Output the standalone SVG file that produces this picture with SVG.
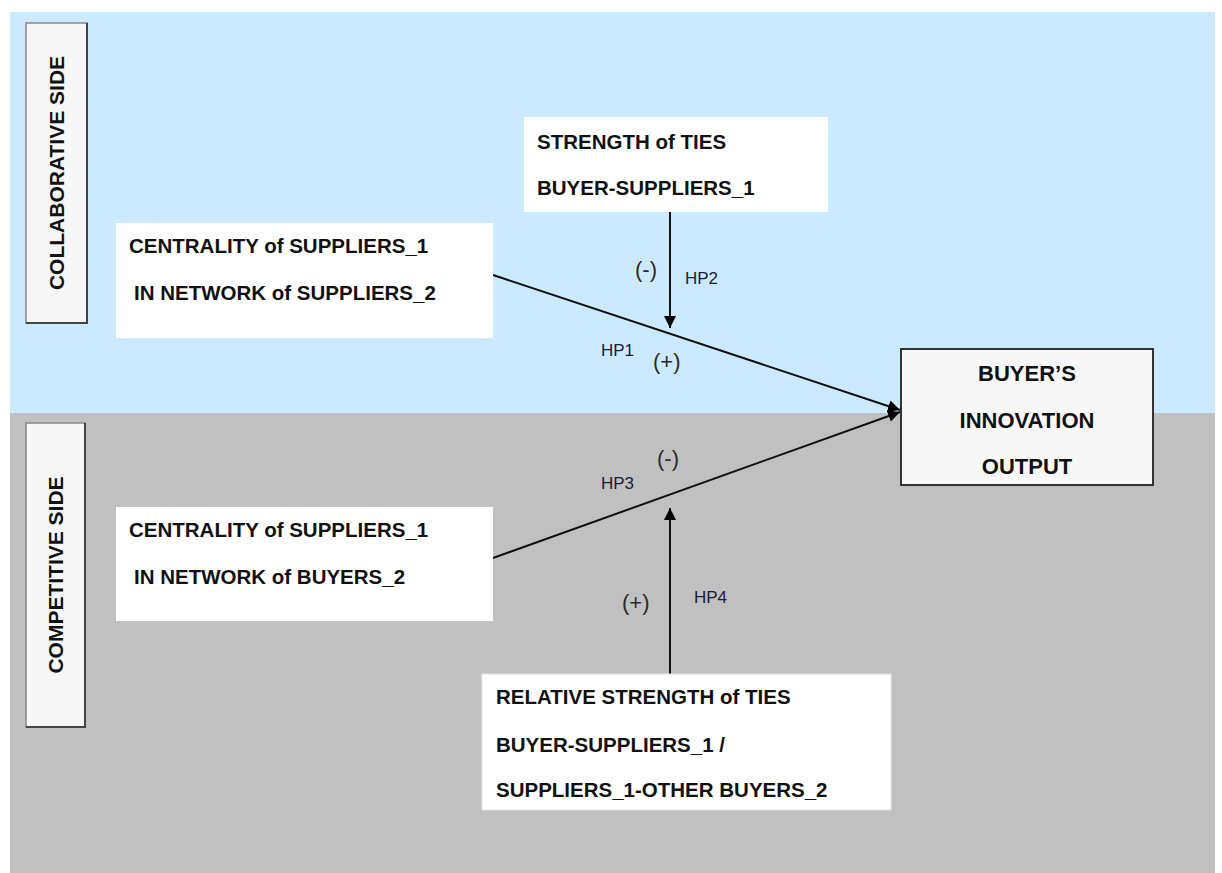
<svg xmlns="http://www.w3.org/2000/svg" width="1222" height="873" viewBox="0 0 1222 873">
<defs>
<style>
.t{font-family:"Liberation Sans",Arial,sans-serif;font-weight:bold;font-size:20.5px;fill:#111}
.big{font-size:22px}
.side{font-family:"Liberation Sans",Arial,sans-serif;font-weight:bold;font-size:21px;fill:#111}
.hp{font-family:"Liberation Sans",Arial,sans-serif;font-size:17px;fill:#1a1a3a}
.sg{font-family:"Liberation Sans",Arial,sans-serif;font-size:22px;fill:#2a2a2a}
.wbox{fill:#ffffff}
.sbox{fill:#f7f7f7;stroke:#888;stroke-width:1.5}
.conn{stroke:#111;stroke-width:2;fill:none}
</style>
<marker id="ah" viewBox="0 0 12 12" refX="12" refY="6" markerWidth="12" markerHeight="12" markerUnits="userSpaceOnUse" orient="auto">
<path d="M0,0 L12,6 L0,12 Z" fill="#000"/>
</marker>
</defs>
<rect x="0" y="0" width="1222" height="873" fill="#ffffff"/>
<rect x="10" y="12" width="1205" height="401" fill="#cceaff"/>
<rect x="10" y="413" width="1205" height="460" fill="#c0c0c0"/>

<g id="collab-side">
<rect class="sbox" x="26" y="23" width="61" height="300"/>
<path d="M87,23 V323 H26" stroke="#444" stroke-width="2" fill="none"/>
<text class="side" transform="translate(64,173) rotate(-90)" text-anchor="middle">COLLABORATIVE  SIDE</text>
</g>
<g id="compet-side">
<rect class="sbox" x="26" y="423" width="59" height="304"/>
<path d="M85,423 V727 H26" stroke="#444" stroke-width="2" fill="none"/>
<text class="side" transform="translate(63,575) rotate(-90)" text-anchor="middle">COMPETITIVE  SIDE</text>
</g>

<g id="connectors">
<line class="conn" x1="493" y1="275" x2="900" y2="410" marker-end="url(#ah)"/>
<line class="conn" x1="493" y1="558" x2="900" y2="412" marker-end="url(#ah)"/>
<line class="conn" x1="670" y1="212" x2="670" y2="328" marker-end="url(#ah)"/>
<line class="conn" x1="670" y1="674" x2="670" y2="508" marker-end="url(#ah)"/>
<text class="sg" x="635" y="277">(-)</text>
<text class="hp" x="685" y="284">HP2</text>
<text class="hp" x="601" y="356">HP1</text>
<text class="sg" x="653" y="369">(+)</text>
<text class="sg" x="657" y="466">(-)</text>
<text class="hp" x="601" y="489">HP3</text>
<text class="sg" x="622" y="610">(+)</text>
<text class="hp" x="694" y="603">HP4</text>
</g>

<g id="strength">
<rect class="wbox" x="524" y="117" width="304" height="95"/>
<text class="t" x="537" y="149">STRENGTH of TIES</text>
<text class="t" x="537" y="195">BUYER-SUPPLIERS_1</text>
</g>
<g id="centrality-suppliers">
<rect class="wbox" x="116" y="223" width="377" height="115"/>
<text class="t" x="129" y="253">CENTRALITY of SUPPLIERS_1</text>
<text class="t" x="134" y="300">IN NETWORK of SUPPLIERS_2</text>
</g>
<g id="centrality-buyers">
<rect class="wbox" x="116" y="507" width="377" height="114"/>
<text class="t" x="129" y="537">CENTRALITY of SUPPLIERS_1</text>
<text class="t" x="134" y="584">IN NETWORK of BUYERS_2</text>
</g>
<g id="relative-strength">
<rect class="wbox" x="482" y="674" width="409" height="136" stroke="#e6e6e6" stroke-width="1"/>
<text class="t" x="496" y="704">RELATIVE STRENGTH of TIES</text>
<text class="t" x="496" y="752">BUYER-SUPPLIERS_1 /</text>
<text class="t" x="496" y="797">SUPPLIERS_1-OTHER BUYERS_2</text>
</g>
<g id="innovation-output">
<rect x="901" y="349" width="252" height="136" fill="#f7f7f7" stroke="#333" stroke-width="2"/>
<text class="t big" x="1027" y="381" text-anchor="middle">BUYER’S</text>
<text class="t big" x="1027" y="428" text-anchor="middle">INNOVATION</text>
<text class="t big" x="1027" y="474" text-anchor="middle">OUTPUT</text>
</g>
</svg>
